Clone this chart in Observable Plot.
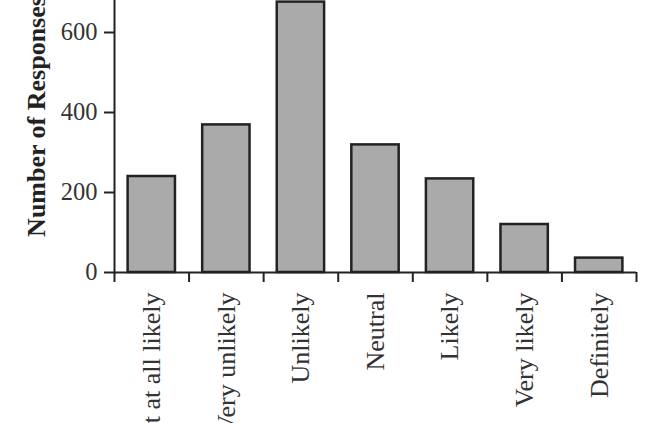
<!DOCTYPE html>
<html>
<head>
<meta charset="utf-8">
<script src="https://cdn.jsdelivr.net/npm/d3@7"></script>
<script src="https://cdn.jsdelivr.net/npm/@observablehq/plot@0.6"></script>
<style>
  html, body { margin: 0; padding: 0; background: #fff; }
  #wrap { width: 668px; height: 423px; overflow: hidden; position: relative; }
  #wrap svg { display: block; margin-top: -50px; }
</style>
</head>
<body>
<div id="wrap"></div>
<script>
const categories = ["Not at all likely", "Very unlikely", "Unlikely", "Neutral", "Likely", "Very likely", "Definitely"];
const responses = [240, 369, 676, 319, 234, 120, 36];
const yTicks = [0, 200, 400, 600];
const yLabel = "Number of Responses";

const data = categories.map((c, i) => ({category: c, count: responses[i]}));

const W = 668, H = 473, ML = 114, MR = 32, MT = 10, MB = 151;
const step = (W - ML - MR) / categories.length;
const ink = "#222";
const txt = "#333";

const chart = Plot.plot({
  width: W,
  height: H,
  marginLeft: ML,
  marginRight: MR,
  marginTop: MT,
  marginBottom: MB,
  style: {fontFamily: "'Liberation Serif', serif", background: "#fff", color: txt},
  x: {domain: categories, paddingInner: 0.365, paddingOuter: 0.1825, round: false},
  y: {domain: [0, 780]},
  marks: [
    Plot.barY(data, {x: "category", y: "count", fill: "#aaaaaa", stroke: ink, strokeWidth: 2.5}),
    Plot.frame({anchor: "left", stroke: ink, strokeWidth: 2}),
    Plot.ruleY([0], {stroke: ink, strokeWidth: 2}),
    Plot.ruleX(categories, {x: d => d, y1: 0, y2: 0, dx: -step / 2, insetBottom: -10, stroke: ink, strokeWidth: 2}),
    Plot.ruleX(categories.slice(-1), {x: d => d, y1: 0, y2: 0, dx: step / 2, insetBottom: -10, stroke: ink, strokeWidth: 2}),
    Plot.axisY({ticks: yTicks, tickSize: 10, tickPadding: 7, strokeWidth: 2, stroke: ink, fill: txt,
      fontSize: 24.5, label: yLabel, labelAnchor: "center", labelArrow: "none", labelOffset: 88}),
    Plot.axisX({tickSize: 0, tickPadding: 20, tickRotate: -90, fontSize: 26, fill: txt, label: null})
  ]
});
document.getElementById("wrap").appendChild(chart);
chart.querySelectorAll("g[aria-label='y-axis label'] text").forEach(t => {
  t.setAttribute("font-weight", "bold");
  t.setAttribute("font-size", "26");
  t.setAttribute("fill", "#222");
});
</script>
</body>
</html>
